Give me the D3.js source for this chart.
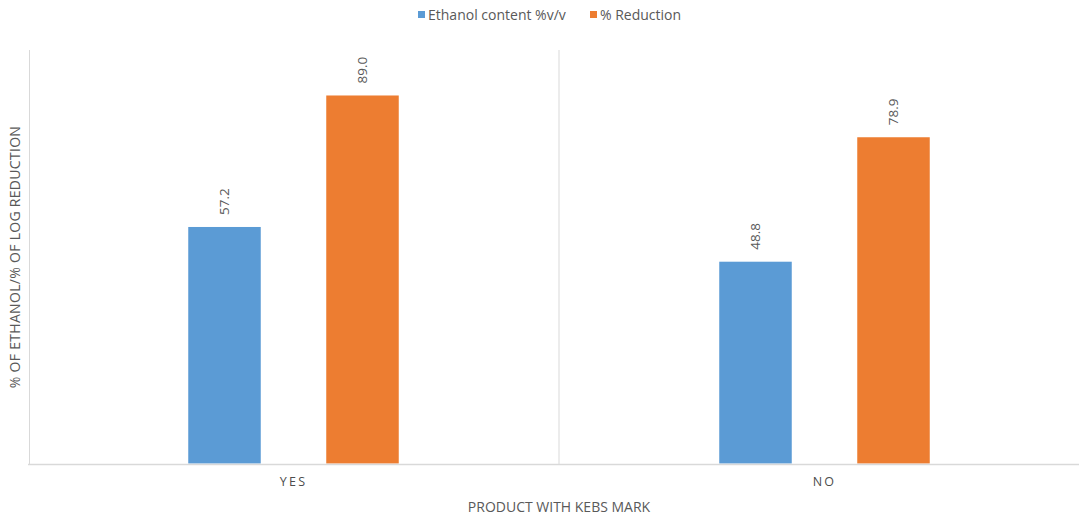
<!DOCTYPE html>
<html>
<head>
<meta charset="utf-8">
<script src="https://cdn.jsdelivr.net/npm/d3@7"></script>
<style>
  html, body { margin: 0; padding: 0; background: #fff; }
  svg { display: block; font-family: "Open Sans", "Noto Sans", sans-serif; }
</style>
</head>
<body>
<svg id="chart" width="1079" height="517"></svg>
<script>
// Bar chart data
const categories = ["YES", "NO"];
const seriesNames = ["Ethanol content %v/v", "% Reduction"];
const ethanolContent = [57.2, 48.8];
const reduction = [89.0, 78.9];
const seriesColors = ["#5B9BD5", "#ED7D31"];

const svg = d3.select("#chart");
const margin = { left: 28, top: 50, right: -11, bottom: 53 };
const W = 1079, H = 517;
const x0 = margin.left, x1 = W - margin.right;
const y0 = H - margin.bottom, y1 = margin.top;

const x = d3.scaleBand().domain(categories).range([x0, x1]).paddingInner(0).paddingOuter(0);
const y = d3.scaleLinear().domain([0, 100]).range([y0 - 0.5, y1]);

const series = [ethanolContent, reduction];
const barW = 72.5, offset = 69;

// category separators
const sepX = [x0 + 1.5, x0 + x.bandwidth()];
svg.selectAll("line.sep").data(sepX).enter().append("line")
  .attr("x1", d => d).attr("x2", d => d)
  .attr("y1", y1).attr("y2", y0)
  .attr("stroke", "#d9d9d9").attr("stroke-width", 1);

// bars with rotated value labels
series.forEach((vals, si) => {
  const dx = si === 0 ? -offset : offset;
  svg.selectAll(null).data(categories).enter().append("rect")
    .attr("x", (d) => x(d) + x.bandwidth() / 2 + dx - barW / 2)
    .attr("y", (d, i) => y(vals[i]))
    .attr("width", barW)
    .attr("height", (d, i) => y(0) - y(vals[i]))
    .attr("fill", seriesColors[si]);
  svg.selectAll(null).data(categories).enter().append("text")
    .attr("transform", (d, i) => {
      const cx = x(d) + x.bandwidth() / 2 + dx + 4.5;
      const cy = y(vals[i]) - 12;
      return `translate(${cx},${cy}) rotate(-90)`;
    })
    .attr("text-anchor", "start")
    .attr("font-size", 13.5)
    .attr("fill", "#595959")
    .text((d, i) => vals[i].toFixed(1));
});

// baseline
svg.append("line")
  .attr("x1", x0).attr("x2", W)
  .attr("y1", y0 + 0.5).attr("y2", y0 + 0.5)
  .attr("stroke", "#d9d9d9").attr("stroke-width", 1.5);

// category labels
svg.selectAll("text.cat").data(categories).enter().append("text")
  .attr("x", d => x(d) + x.bandwidth() / 2)
  .attr("y", 486)
  .attr("text-anchor", "middle")
  .attr("font-size", 12.5)
  .attr("letter-spacing", 2.2)
  .attr("fill", "#4d4d4d")
  .text(d => d);

// axis titles
svg.append("text")
  .attr("x", 559).attr("y", 512)
  .attr("text-anchor", "middle")
  .attr("font-size", 14)
  .attr("fill", "#595959")
  .text("PRODUCT WITH KEBS MARK");

svg.append("text")
  .attr("transform", "translate(20,257) rotate(-90)")
  .attr("text-anchor", "middle")
  .attr("font-size", 14)
  .attr("letter-spacing", 0.3)
  .attr("fill", "#595959")
  .text("% OF ETHANOL/% OF LOG REDUCTION");

// legend
const legendItems = [
  { name: seriesNames[0], color: seriesColors[0], x: 418 },
  { name: seriesNames[1], color: seriesColors[1], x: 590 }
];
const lg = svg.append("g");
legendItems.forEach(it => {
  lg.append("rect").attr("x", it.x).attr("y", 11).attr("width", 7).attr("height", 7).attr("fill", it.color);
  lg.append("text").attr("x", it.x + 10).attr("y", 19.5)
    .attr("font-size", 14).attr("fill", "#595959").text(it.name);
});
</script>
</body>
</html>
